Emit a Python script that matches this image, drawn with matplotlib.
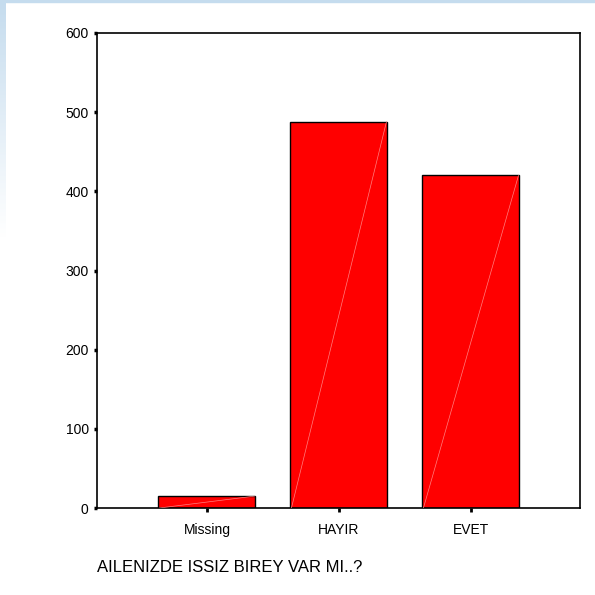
import matplotlib
matplotlib.use("Agg")
import matplotlib.pyplot as plt
from matplotlib.patches import Rectangle
import numpy as np

categories = ["Missing", "HAYIR", "EVET"]
counts = [15, 488, 420]
yticks = [0, 100, 200, 300, 400, 500, 600]
xlabel = "AILENIZDE ISSIZ BIREY VAR MI..?"

plt.rcParams['font.family'] = ['Liberation Sans Narrow', 'Liberation Sans', 'DejaVu Sans']

fig = plt.figure(figsize=(5.95, 5.95), dpi=100)
fig.patch.set_facecolor("white")
# light blue frame at top and left
fig.patches.append(Rectangle((0, 0.996), 1, 0.004, transform=fig.transFigure, color="#c5dcee", zorder=0))
grad = np.linspace(1, 0, 100).reshape(-1, 1)
axbg = fig.add_axes([0, 0.6, 0.009, 0.4])
axbg.imshow(grad, aspect="auto", cmap=matplotlib.colors.LinearSegmentedColormap.from_list("b", ["#ffffff", "#c5dcee"]), extent=[0, 1, 0, 1])
axbg.axis("off")

ax = fig.add_axes([97/595, 1 - 508/595, (580-97)/595, (508-33)/595])
x = np.arange(len(categories))
bars = ax.bar(x, counts, width=0.735, color="#ff0000", edgecolor="black", linewidth=1.0, zorder=2)
for xi, c in zip(x, counts):
    ax.plot([xi - 0.36, xi + 0.36], [0, c], color="#ff8080", linewidth=0.5, zorder=3)

ax.set_xlim(-0.833, 2.826)
ax.set_ylim(0, 600)
ax.set_yticks(yticks)
ax.set_yticklabels([str(v) for v in yticks], fontsize=10)
ax.set_xticks(x)
ax.set_xticklabels(categories, fontsize=10)
ax.tick_params(axis="y", length=2, width=2.5, pad=4, direction="out")
ax.tick_params(axis="x", length=3, width=2, pad=8, direction="out")
for s in ax.spines.values():
    s.set_linewidth(1.2)
    s.set_color("black")

fig.text(97/595, 1 - 567/595, xlabel, fontsize=12, ha="left", va="center")

fig.savefig("out.png", dpi=100)
